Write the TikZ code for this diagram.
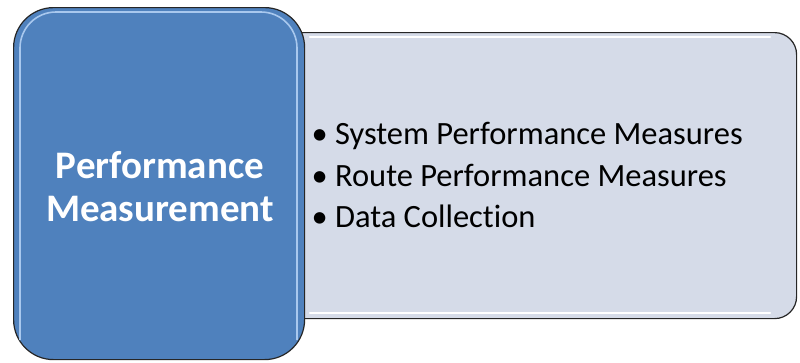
\documentclass[tikz,border=0pt]{standalone}
\usepackage{fontspec}
\setmainfont{Carlito}[Ligatures={NoCommon,NoRare}]
\begin{document}
\begin{tikzpicture}[x=1pt,y=-1pt,
  bluebox/.style={draw=black!85, line width=1.2pt, fill=blueA, rounded corners=40pt},
  greybox/.style={draw=black!85, line width=1.2pt, fill=greyA, rounded corners=22pt},
  title/.style={text=white, font=\fontsize{39}{43}\selectfont\bfseries, align=center},
  items/.style={text=black, font=\fontsize{32.5}{41.5}\selectfont, align=left, anchor=west}]
\definecolor{blueA}{HTML}{4F81BD}
\definecolor{blueL}{HTML}{A9C8EE}
\definecolor{greyA}{HTML}{D5DBE8}
\useasboundingbox (0,0) rectangle (800,362);
% grey panel
\node[greybox, minimum width=515pt, minimum height=286pt, anchor=north west] (panel) at (281,32) {};
\draw[white, line width=2.5pt, line cap=round] (310,37) -- (770,37);
\draw[white, line width=2.5pt, line cap=round] (310,313) -- (770,313);
% blue box
\node[bluebox, minimum width=291pt, minimum height=352pt, anchor=north west] (main) at (13,7) {};
\draw[blueL, line width=1.6pt, rounded corners=36pt] (20,340) -- (20,12) -- (297,12) -- (297,340);
\node[title] (t) at (160,187) {Performance\\Measurement};
\node[items] (list) at (308,175) {\textbullet\ System Performance Measures\\\textbullet\ Route Performance Measures\\\textbullet\ Data Collection};
\end{tikzpicture}
\end{document}
